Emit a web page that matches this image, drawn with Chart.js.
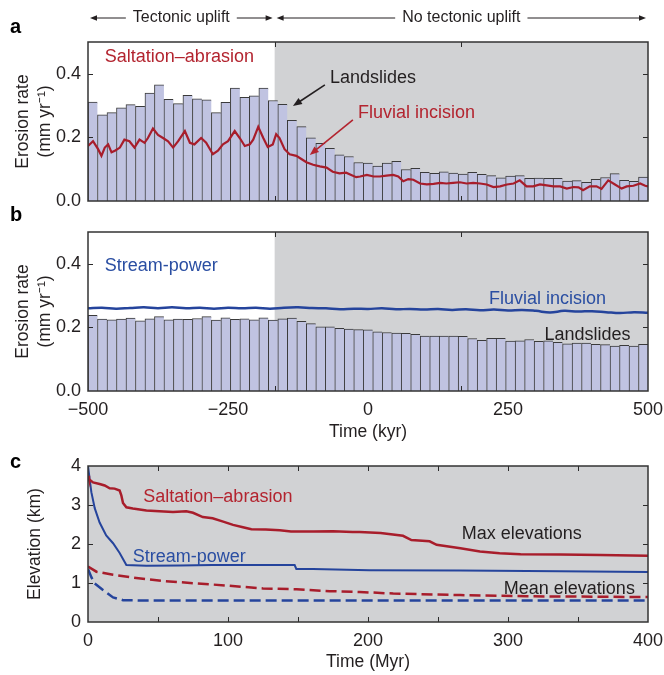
<!DOCTYPE html>
<html>
<head>
<meta charset="utf-8">
<title>Erosion rates and elevations</title>
<script src="https://cdn.jsdelivr.net/npm/chart.js@4.4.1/dist/chart.umd.min.js"></script>
<style>
  body { margin: 0; background: #fff; }
  #wrap { position: relative; width: 664px; height: 675px; overflow: hidden; }
  #wrap canvas { position: absolute; left: 0; }
</style>
</head>
<body>
<div id="wrap">
  <canvas id="chartA" width="664" height="221" style="top:0"></canvas>
  <canvas id="chartB" width="664" height="250" style="top:200px"></canvas>
  <canvas id="chartC" width="664" height="230" style="top:445px"></canvas>
</div>
<script>
// ---- data ----

// panel a: landslide erosion (bars, 59 bins from -500 to 500 kyr), saltation-abrasion run
const landslideA = [0.311, 0.271, 0.278, 0.293, 0.303, 0.298, 0.339, 0.365, 0.320, 0.306,
  0.332, 0.321, 0.318, 0.278, 0.310, 0.355, 0.326, 0.331, 0.355, 0.316,
  0.304, 0.254, 0.234, 0.199, 0.181, 0.166, 0.145, 0.140, 0.121, 0.119,
  0.110, 0.119, 0.125, 0.099, 0.103, 0.090, 0.087, 0.092, 0.088, 0.085,
  0.090, 0.084, 0.080, 0.073, 0.078, 0.080, 0.071, 0.072, 0.071, 0.071,
  0.063, 0.064, 0.059, 0.068, 0.074, 0.086, 0.065, 0.062, 0.075];

// panel a: fluvial incision line (kyr, mm/yr)
const fluvialTimeA = [-500, -491, -482, -476, -470, -464, -458, -452, -443, -435,
  -426, -417, -408, -399, -393, -384, -375, -366, -357, -348,
  -339, -327, -318, -310, -298, -289, -277, -268, -259, -250,
  -238, -229, -220, -211, -205, -196, -187, -179, -170, -164,
  -158, -149, -140, -128, -119, -110, -98, -86, -74, -63,
  -51, -39, -30, -21, -14, -2, 10, 21, 33, 45,
  54, 63, 72, 81, 93, 105, 117, 129, 140, 152,
  164, 176, 188, 200, 212, 224, 236, 248, 260, 271,
  283, 295, 307, 319, 331, 343, 355, 367, 376, 384,
  396, 408, 417, 429, 441, 453, 462, 474, 486, 495, 500];
const fluvialA = [0.173, 0.188, 0.163, 0.142, 0.168, 0.178, 0.153, 0.158, 0.168, 0.193,
  0.188, 0.168, 0.193, 0.183, 0.198, 0.228, 0.208, 0.198, 0.188, 0.168,
  0.188, 0.220, 0.183, 0.178, 0.198, 0.183, 0.147, 0.158, 0.178, 0.188,
  0.220, 0.198, 0.173, 0.178, 0.193, 0.233, 0.198, 0.170, 0.178, 0.210,
  0.198, 0.163, 0.147, 0.142, 0.132, 0.122, 0.114, 0.109, 0.105, 0.092,
  0.087, 0.089, 0.082, 0.075, 0.077, 0.082, 0.077, 0.077, 0.080, 0.082,
  0.077, 0.062, 0.069, 0.067, 0.055, 0.052, 0.054, 0.057, 0.055, 0.057,
  0.059, 0.055, 0.057, 0.055, 0.052, 0.044, 0.046, 0.052, 0.055, 0.065,
  0.046, 0.046, 0.052, 0.049, 0.046, 0.046, 0.039, 0.044, 0.043, 0.034,
  0.046, 0.046, 0.038, 0.065, 0.052, 0.039, 0.046, 0.048, 0.055, 0.048, 0.046];

// panel b: stream-power run
const landslideB = [0.238, 0.226, 0.224, 0.226, 0.229, 0.221, 0.227, 0.234, 0.224, 0.226,
  0.225, 0.228, 0.234, 0.223, 0.230, 0.225, 0.227, 0.224, 0.230, 0.223,
  0.227, 0.229, 0.219, 0.212, 0.202, 0.202, 0.197, 0.195, 0.193, 0.192,
  0.186, 0.184, 0.182, 0.181, 0.178, 0.173, 0.173, 0.173, 0.173, 0.172,
  0.165, 0.159, 0.166, 0.166, 0.157, 0.158, 0.162, 0.156, 0.158, 0.153,
  0.148, 0.151, 0.151, 0.147, 0.146, 0.141, 0.144, 0.141, 0.147];
const fluvialTimeB = [-500, -475, -450, -425, -400, -375, -350, -325, -300, -275,
  -250, -225, -200, -175, -150, -125, -100, -75, -50, -25,
  0, 25, 50, 75, 100, 125, 150, 175, 200, 225,
  250, 275, 300, 325, 350, 375, 400, 425, 450, 475, 500];
const fluvialB = [0.260, 0.262, 0.259, 0.261, 0.263, 0.260, 0.263, 0.260, 0.262, 0.259,
  0.262, 0.260, 0.262, 0.259, 0.262, 0.263, 0.261, 0.260, 0.257, 0.259,
  0.258, 0.260, 0.257, 0.258, 0.256, 0.258, 0.255, 0.257, 0.254, 0.256,
  0.253, 0.255, 0.252, 0.247, 0.252, 0.250, 0.251, 0.248, 0.245, 0.248, 0.246];

// panel c: elevations (Myr, km)
const saltMaxTime = [0, 0.7, 3.6, 8.3, 11.9, 15.5, 19, 22.6, 23.8, 25,
  27.4, 32, 41.7, 51, 60.7, 70.2, 75, 82, 89, 96,
  103.6, 110.7, 116.7, 127, 137, 145, 161, 175, 189, 194,
  209, 225, 231, 244, 249, 266, 280, 294, 309, 337, 366, 400];
const saltMax = [3.75, 3.66, 3.58, 3.54, 3.50, 3.43, 3.42, 3.37, 3.25, 3.05,
  2.94, 2.91, 2.86, 2.84, 2.82, 2.84, 2.80, 2.69, 2.66, 2.58,
  2.49, 2.43, 2.38, 2.37, 2.35, 2.32, 2.32, 2.33, 2.31, 2.31,
  2.28, 2.21, 2.10, 2.07, 1.98, 1.89, 1.81, 1.76, 1.74, 1.73, 1.72, 1.70];
const streamMaxTime = [0, 1.2, 2.4, 4.8, 8.3, 13, 17.9, 22.6, 27.4, 41.7,
  65.5, 89, 113, 147.6, 148.8, 160.7, 201, 266, 337, 400];
const streamMax = [4.0, 3.66, 3.33, 2.92, 2.55, 2.22, 2.02, 1.77, 1.46, 1.44,
  1.45, 1.46, 1.46, 1.46, 1.36, 1.36, 1.33, 1.32, 1.30, 1.28];
const saltMeanTime = [0, 6, 17.9, 29.8, 53.6, 77.4, 101, 125, 149, 172.6, 194, 218, 266, 313, 400];
const saltMean = [1.42, 1.29, 1.21, 1.15, 1.05, 0.99, 0.93, 0.86, 0.84, 0.79, 0.77, 0.73, 0.69, 0.66, 0.64];
const streamMeanTime = [0, 2.4, 4.8, 10.7, 17.9, 25, 41.7, 400];
const streamMean = [1.36, 1.15, 0.99, 0.82, 0.63, 0.56, 0.55, 0.55];

// ticks and bins
const timeRangeKyr = [-500, 500];
const xTicksKyr = [-500, -250, 0, 250, 500];
const frameMarksKyr = [-166.7, 166.7];
const yTicksErosion = [0, 0.2, 0.4];
const upliftEndKyr = -166.7;
const xTicksMyr = [0, 100, 200, 300, 400];
const frameMarksMyr = [50, 100, 150, 200, 250, 300, 350];
const yTicksKm = [0, 1, 2, 3, 4];

// bin centres of the landslide histogram (equal bins over the time range)
const binWidthKyr = (timeRangeKyr[1] - timeRangeKyr[0]) / landslideA.length;
const binCentreKyr = landslideA.map((v, i) => timeRangeKyr[0] + (i + 0.5) * binWidthKyr);

// ---- styles ----
const FONT = '"Liberation Sans", Arial, Helvetica, sans-serif';
const INK = '#231f20';
const RED = '#a81d2b';
const RED_TEXT = '#b3242f';
const BLUE = '#25449c';
const BLUE_TEXT = '#2a4ea2';
const GRAY = '#d1d2d4';
const BAR_FILL = '#c0c3e1';
const BAR_EDGE = '#3a3a3a';

Chart.defaults.font.family = FONT;
Chart.defaults.font.size = 18;
Chart.defaults.color = INK;
Chart.defaults.animation = false;
Chart.defaults.plugins.legend.display = false;
Chart.defaults.plugins.tooltip.enabled = false;

function pts(xs, ys) {
  return xs.map((x, i) => ({ x: x, y: ys[i] }));
}
function fixWidth(w) { return s => { s.width = w; }; }
// fixed axis height; end labels may overhang the plot box without shrinking it
function fixHeight(h) { return s => { s.height = h; s.paddingLeft = 0; s.paddingRight = 0; }; }
function setTicks(list) { return s => { s.ticks = list.map(v => ({ value: v })); }; }
function kyrLabel(v) { return v < 0 ? '\u2212' + Math.abs(v) : String(v); }

function drawArrow(ctx, x1, y1, x2, y2, color, head, width) {
  const ang = Math.atan2(y2 - y1, x2 - x1);
  const c = Math.cos(ang), s = Math.sin(ang);
  ctx.strokeStyle = color;
  ctx.fillStyle = color;
  ctx.lineWidth = width || 1.5;
  ctx.beginPath();
  ctx.moveTo(x1, y1);
  ctx.lineTo(x2 - c * head * 0.8, y2 - s * head * 0.8);
  ctx.stroke();
  ctx.beginPath();
  ctx.moveTo(x2, y2);
  ctx.lineTo(x2 - head * c + head * 0.4 * s, y2 - head * s - head * 0.4 * c);
  ctx.lineTo(x2 - head * c - head * 0.4 * s, y2 - head * s + head * 0.4 * c);
  ctx.closePath();
  ctx.fill();
}

// double-headed span with a label in the middle (header of panel a)
function drawSpan(ctx, xa, xb, y, label) {
  ctx.font = '16px ' + FONT;
  ctx.fillStyle = INK;
  ctx.textAlign = 'center';
  ctx.textBaseline = 'middle';
  const w = ctx.measureText(label).width;
  const mid = (xa + xb) / 2;
  ctx.fillText(label, mid, y);
  drawArrow(ctx, mid - w / 2 - 7, y, xa, y, INK, 7, 1);
  drawArrow(ctx, mid + w / 2 + 7, y, xb, y, INK, 7, 1);
}

// shading, inward tick marks, frame, annotations
function framePlugin(cfg) {
  return {
    id: 'frame',
    beforeDatasetsDraw(chart) {
      const { ctx, chartArea: a } = chart;
      const xs = chart.scales.x;
      const x0 = cfg.shadeFrom === undefined ? a.left : xs.getPixelForValue(cfg.shadeFrom);
      ctx.save();
      ctx.fillStyle = GRAY;
      ctx.fillRect(x0, a.top, a.right - x0, a.bottom - a.top);
      ctx.restore();
    },
    afterDatasetsDraw(chart) {
      const { ctx, chartArea: a } = chart;
      const xs = chart.scales.x, ys = chart.scales.y;
      ctx.save();
      ctx.strokeStyle = '#2a2a2a';
      ctx.lineWidth = 1;
      ctx.beginPath();
      cfg.xMarks.forEach(v => {
        const px = Math.round(xs.getPixelForValue(v)) + 0.5;
        ctx.moveTo(px, a.top); ctx.lineTo(px, a.top + 5);
        ctx.moveTo(px, a.bottom); ctx.lineTo(px, a.bottom - 5);
      });
      cfg.yMarks.forEach(v => {
        const py = Math.round(ys.getPixelForValue(v)) + 0.5;
        ctx.moveTo(a.left, py); ctx.lineTo(a.left + 5, py);
        ctx.moveTo(a.right, py); ctx.lineTo(a.right - 5, py);
      });
      ctx.stroke();
      ctx.lineWidth = 1.5;
      ctx.strokeStyle = '#333';
      ctx.strokeRect(a.left, a.top, a.right - a.left, a.bottom - a.top);

      ctx.font = '18px ' + FONT;
      ctx.textAlign = 'left';
      ctx.textBaseline = 'middle';
      cfg.notes.forEach(n => {
        ctx.fillStyle = n.color;
        ctx.fillText(n.text, xs.getPixelForValue(n.x), ys.getPixelForValue(n.y));
      });
      (cfg.arrows || []).forEach(ar => {
        drawArrow(ctx, xs.getPixelForValue(ar.from[0]), ys.getPixelForValue(ar.from[1]),
          xs.getPixelForValue(ar.to[0]), ys.getPixelForValue(ar.to[1]), ar.color, 9, 1.6);
      });
      if (cfg.header) {
        const xm = xs.getPixelForValue(upliftEndKyr);
        drawSpan(ctx, a.left + 2, xm - 2, 18, 'Tectonic uplift');
        drawSpan(ctx, xm + 2, a.right - 2, 18, 'No tectonic uplift');
      }
      ctx.font = 'bold 20px ' + FONT;
      ctx.fillStyle = '#000';
      ctx.textAlign = 'left';
      ctx.fillText(cfg.letter, 10, cfg.letterY);
      ctx.restore();
    }
  };
}

const titleFont = { size: 17.5, lineHeight: 1.25 };

function erosionAxis() {
  return {
    type: 'linear', min: 0, max: 0.5,
    afterFit: fixWidth(88),
    afterBuildTicks: setTicks(yTicksErosion),
    grid: { display: false, drawTicks: false },
    border: { display: false },
    ticks: { padding: 7, callback: v => v.toFixed(1) },
    title: { display: true, text: ['Erosion rate', '(mm yr\u207B\u00B9)'], padding: { top: 12 }, font: titleFont }
  };
}

function barSet(values) {
  return {
    type: 'bar', data: pts(binCentreKyr, values),
    backgroundColor: BAR_FILL, borderColor: BAR_EDGE,
    borderWidth: { top: 1, left: 1, right: 0, bottom: 0 },
    barThickness: 'flex', barPercentage: 1, categoryPercentage: 1, order: 1
  };
}

// ---- panel a ----
new Chart(document.getElementById('chartA'), {
  type: 'bar',
  data: {
    datasets: [
      { type: 'line', data: pts(fluvialTimeA, fluvialA),
        borderColor: RED, borderWidth: 2.2, pointRadius: 0, order: 0 },
      barSet(landslideA)
    ]
  },
  options: {
    responsive: false,
    layout: { padding: { top: 42, right: 16, bottom: 20, left: 0 } },
    scales: {
      x: { type: 'linear', display: false, min: timeRangeKyr[0], max: timeRangeKyr[1], offset: false, grid: { offset: false } },
      y: erosionAxis()
    }
  },
  plugins: [framePlugin({
    shadeFrom: upliftEndKyr, xMarks: frameMarksKyr, yMarks: [0.2, 0.4],
    header: true, letter: 'a', letterY: 27,
    notes: [
      { text: 'Saltation\u2013abrasion', x: -470, y: 0.453, color: RED_TEXT },
      { text: 'Landslides', x: -68, y: 0.387, color: INK },
      { text: 'Fluvial incision', x: -18, y: 0.277, color: RED_TEXT }
    ],
    arrows: [
      { from: [-77, 0.365], to: [-134, 0.299], color: INK },
      { from: [-27, 0.255], to: [-104, 0.145], color: RED_TEXT }
    ]
  })]
});

// ---- panel b ----
new Chart(document.getElementById('chartB'), {
  type: 'bar',
  data: {
    datasets: [
      { type: 'line', data: pts(fluvialTimeB, fluvialB),
        borderColor: BLUE, borderWidth: 2.5, pointRadius: 0, tension: 0.4, order: 0 },
      barSet(landslideB)
    ]
  },
  options: {
    responsive: false,
    layout: { padding: { top: 32, right: 16, bottom: 0, left: 0 } },
    scales: {
      x: {
        type: 'linear', min: timeRangeKyr[0], max: timeRangeKyr[1], offset: false,
        afterFit: fixHeight(59),
        afterBuildTicks: setTicks(xTicksKyr),
        grid: { display: false, drawTicks: false, offset: false },
        border: { display: false },
        ticks: { padding: 8, maxRotation: 0, callback: kyrLabel },
        title: { display: true, text: 'Time (kyr)', padding: { bottom: 7 }, font: titleFont }
      },
      y: erosionAxis()
    }
  },
  plugins: [framePlugin({
    shadeFrom: upliftEndKyr, xMarks: frameMarksKyr, yMarks: [0.2, 0.4],
    letter: 'b', letterY: 15,
    notes: [
      { text: 'Stream-power', x: -470, y: 0.393, color: BLUE_TEXT },
      { text: 'Fluvial incision', x: 216, y: 0.289, color: BLUE_TEXT },
      { text: 'Landslides', x: 315, y: 0.175, color: INK }
    ]
  })]
});

// ---- panel c ----
new Chart(document.getElementById('chartC'), {
  type: 'line',
  data: {
    datasets: [
      { data: pts(saltMaxTime, saltMax), borderColor: RED, borderWidth: 2.5, pointRadius: 0 },
      { data: pts(streamMaxTime, streamMax), borderColor: BLUE, borderWidth: 2, pointRadius: 0 },
      { data: pts(saltMeanTime, saltMean), borderColor: RED, borderWidth: 2.5, borderDash: [11, 5], pointRadius: 0 },
      { data: pts(streamMeanTime, streamMean), borderColor: BLUE, borderWidth: 2.5, borderDash: [11, 5], pointRadius: 0 }
    ]
  },
  options: {
    responsive: false,
    layout: { padding: { top: 21, right: 16, bottom: 0, left: 0 } },
    scales: {
      x: {
        type: 'linear', min: 0, max: 400,
        afterFit: fixHeight(53),
        afterBuildTicks: setTicks(xTicksMyr),
        grid: { display: false, drawTicks: false },
        border: { display: false },
        ticks: { padding: 8, maxRotation: 0 },
        title: { display: true, text: 'Time (Myr)', padding: { bottom: 2 }, font: titleFont }
      },
      y: {
        type: 'linear', min: 0, max: 4,
        afterFit: fixWidth(88),
        afterBuildTicks: setTicks(yTicksKm),
        grid: { display: false, drawTicks: false },
        border: { display: false },
        ticks: { padding: 7 },
        title: { display: true, text: 'Elevation (km)', padding: { top: 24 }, font: titleFont }
      }
    }
  },
  plugins: [framePlugin({
    xMarks: frameMarksMyr, yMarks: [1, 2, 3],
    letter: 'c', letterY: 17,
    notes: [
      { text: 'Saltation\u2013abrasion', x: 39.5, y: 3.2, color: RED_TEXT },
      { text: 'Stream-power', x: 32, y: 1.67, color: BLUE_TEXT },
      { text: 'Max elevations', x: 267, y: 2.26, color: INK },
      { text: 'Mean elevations', x: 297, y: 0.85, color: INK }
    ]
  })]
});
</script>
</body>
</html>
